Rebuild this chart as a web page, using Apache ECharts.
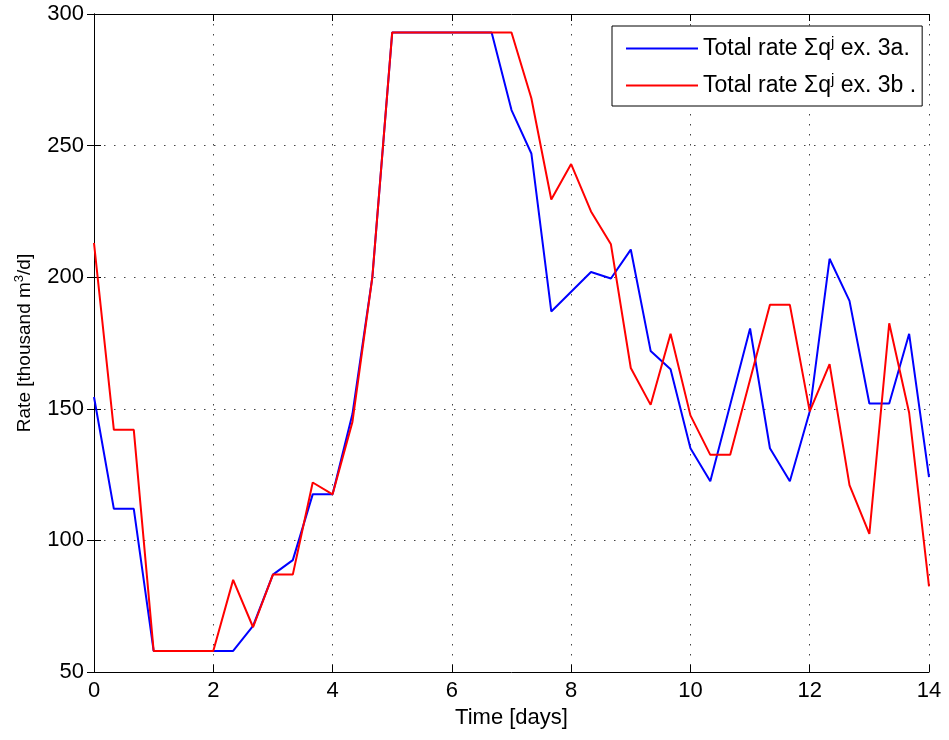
<!DOCTYPE html>
<html>
<head>
<meta charset="utf-8">
<script src="https://cdn.jsdelivr.net/npm/echarts@6/dist/echarts.min.js"></script>
<style>html,body{margin:0;padding:0;background:#fff}#c{width:949px;height:740px}</style>
</head>
<body>
<div id="c"></div>
<script>
// Time in days (every 1/3 day)
var times = [0, 0.333, 0.667, 1, 1.333, 1.667, 2, 2.333, 2.667, 3, 3.333, 3.667, 4, 4.333, 4.667,
  5, 5.333, 5.667, 6, 6.333, 6.667, 7, 7.333, 7.667, 8, 8.333, 8.667, 9, 9.333, 9.667,
  10, 10.333, 10.667, 11, 11.333, 11.667, 12, 12.333, 12.667, 13, 13.333, 13.667, 14];
var rate3a = [154.5, 112, 112, 58, 58, 58, 58, 58, 67.5, 87, 92.5, 117.5, 117.5, 148, 200,
  293, 293, 293, 293, 293, 293, 263.5, 247, 187, 194.5, 202, 199.5, 210.5, 172, 165,
  135, 122.5, 151.5, 180.5, 135, 122.5, 149, 207, 191, 152, 152, 178.5, 124];
var rate3b = [213, 142, 142, 58, 58, 58, 58, 85, 67, 87, 87, 122, 117.5, 145, 200,
  293, 293, 293, 293, 293, 293, 293, 268, 229.5, 243, 225, 212.5, 165.5, 151.5, 178.5,
  147.5, 132.5, 132.5, 161, 189.5, 189.5, 149, 167, 121, 102.5, 182.5, 148.5, 82.5];
var seriesNames = ['Total rate Σqj ex. 3a.', 'Total rate Σqj ex. 3b .'];
var legendRich = ['Total rate {s|Σq}{sup|j} ex. 3a.', 'Total rate {s|Σq}{sup|j} ex. 3b .'];
var xTitle = 'Time [days]';
var yTitle = 'Rate [thousand m{sup|3}/d]';

function pairs(v) { return times.map(function (t, i) { return [t, v[i]]; }); }

var FONT = '"Liberation Sans", Arial, sans-serif';
var chart = echarts.init(document.getElementById('c'), null, {renderer: 'canvas'});
var gridLine = {show: true, lineStyle: {color: '#444', type: [1.5, 8.5], width: 1}};
var tick = {show: true, inside: true, length: 7, lineStyle: {color: '#000', width: 1}};
var axLine = {show: true, lineStyle: {color: '#000', width: 1}};

chart.setOption({
  animation: false,
  backgroundColor: '#fff',
  textStyle: {fontFamily: FONT},
  grid: {left: 94, right: 20, top: 14, bottom: 68},
  legend: {
    orient: 'vertical', left: 612, top: 26,
    data: seriesNames,
    icon: 'rect', itemWidth: 72, itemHeight: 2, itemGap: 12,
    padding: [9, 6, 9, 14],
    borderColor: '#000', borderWidth: 1, backgroundColor: '#fff',
    formatter: function (name) { return legendRich[seriesNames.indexOf(name)]; },
    textStyle: {fontSize: 23, color: '#000', fontFamily: FONT,
      rich: {s: {fontSize: 23, fontFamily: FONT}, sup: {fontSize: 15, padding: [0, 0, 12, 0], fontFamily: FONT}}}
  },
  xAxis: [{
    type: 'value', min: 0, max: 14, interval: 2,
    name: xTitle, nameLocation: 'middle', nameGap: 30,
    nameTextStyle: {fontSize: 22, color: '#000', fontFamily: FONT},
    axisLine: axLine, axisTick: tick, splitLine: gridLine,
    axisLabel: {fontSize: 22, color: '#000', margin: 8, fontFamily: FONT}
  }, {
    type: 'value', min: 0, max: 14, interval: 2, position: 'top',
    axisLine: axLine, axisTick: tick, splitLine: {show: false}, axisLabel: {show: false}
  }],
  yAxis: [{
    type: 'value', min: 50, max: 300, interval: 50,
    name: yTitle, nameLocation: 'middle', nameGap: 58,
    nameTextStyle: {fontSize: 19, color: '#000', fontFamily: FONT,
      rich: {sup: {fontSize: 13, padding: [0, 0, 10, 0], fontFamily: FONT}}},
    axisLine: axLine, axisTick: tick, splitLine: gridLine,
    axisLabel: {fontSize: 22, color: '#000', margin: 10, fontFamily: FONT}
  }, {
    type: 'value', min: 50, max: 300, interval: 50, position: 'right',
    axisLine: axLine, axisTick: tick, splitLine: {show: false}, axisLabel: {show: false}
  }],
  series: [{
    name: seriesNames[0], type: 'line', data: pairs(rate3a), symbol: 'none',
    lineStyle: {color: '#0000ff', width: 2}, itemStyle: {color: '#0000ff'}, z: 2
  }, {
    name: seriesNames[1], type: 'line', data: pairs(rate3b), symbol: 'none',
    lineStyle: {color: '#ff0000', width: 2}, itemStyle: {color: '#ff0000'}, z: 3
  }]
});
</script>
</body>
</html>
